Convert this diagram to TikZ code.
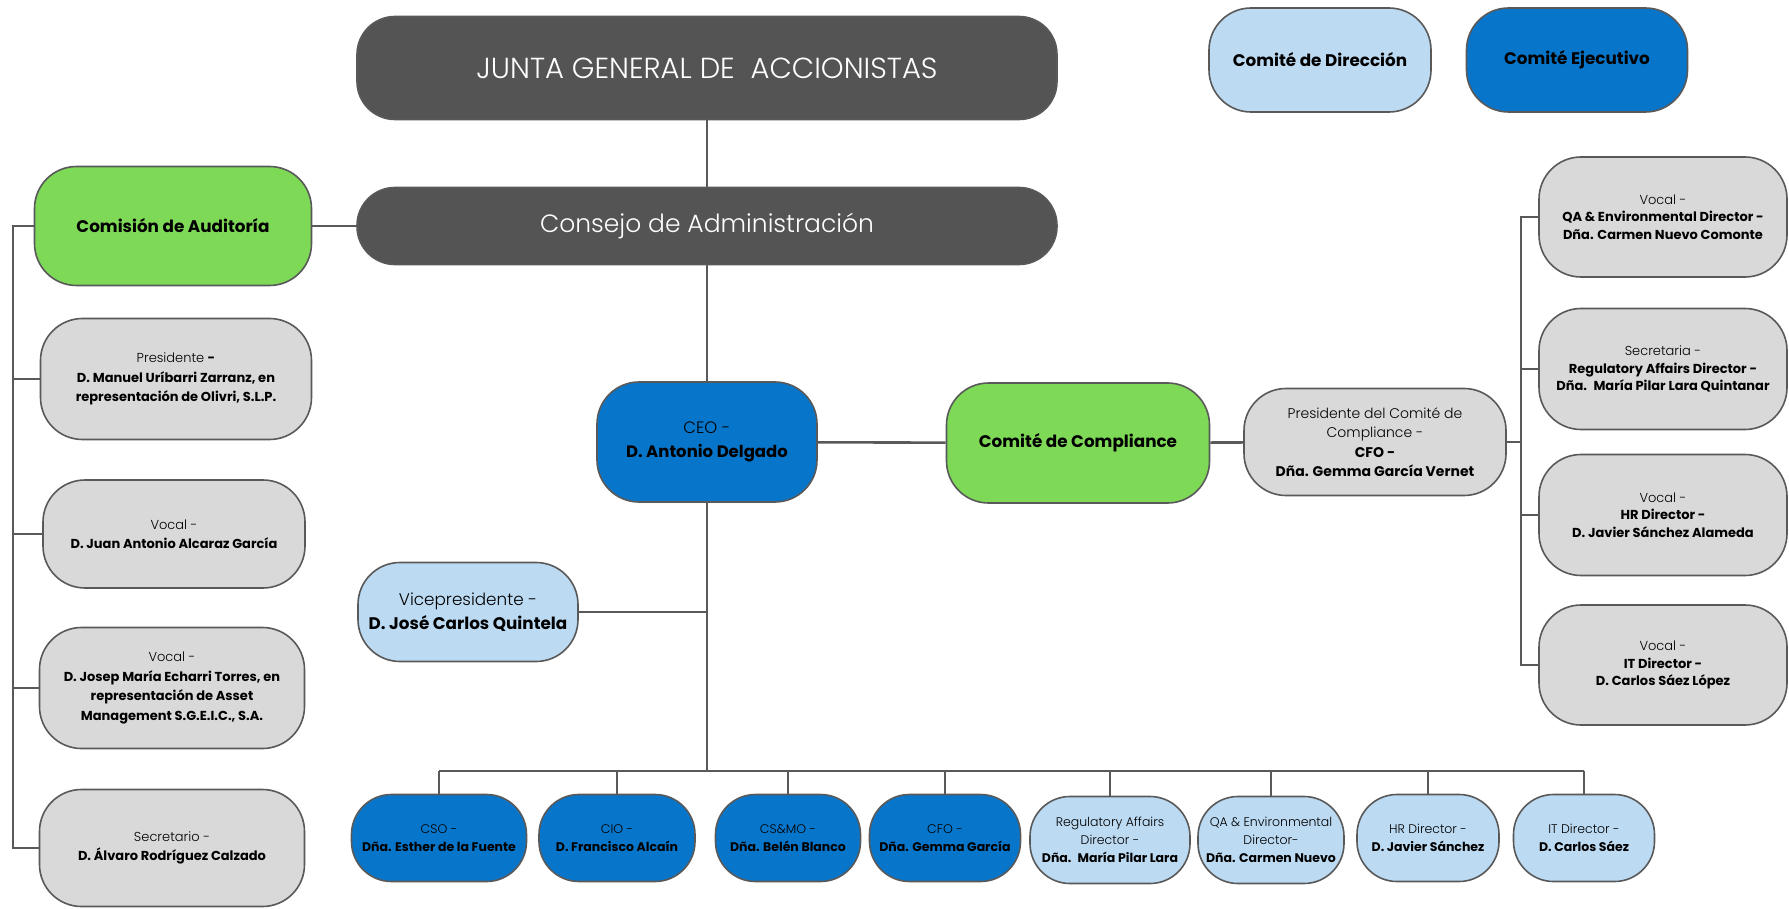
\documentclass[tikz,border=0pt]{standalone}
\usepackage{fontspec}
\setmainfont{Poppins}
\newfontfamily\lightfont{Poppins Light}
\usepackage{xcolor}

\definecolor{darkbox}{HTML}{545454}
\definecolor{greenbox}{HTML}{7ED957}
\definecolor{graybox}{HTML}{D9D9D9}
\definecolor{lightbluebox}{HTML}{BCDAF2}
\definecolor{bluebox}{HTML}{0776CA}
\definecolor{linecol}{HTML}{595959}

\tikzset{
    box/.style={draw=linecol, line width=1.6pt, rounded corners=42pt, align=center, inner sep=0pt},
    dark/.style={box, fill=darkbox, text=white, rounded corners=38pt},
    green/.style={box, fill=greenbox},
    gray/.style={box, fill=graybox},
    light/.style={box, fill=lightbluebox},
    blue/.style={box, fill=bluebox},
    conn/.style={draw=linecol, line width=2.6pt}
}

\begin{document}
\begin{tikzpicture}[x=1pt, y=-1pt]
    \useasboundingbox (0,0) rectangle (1789,909);

    % top
    \node[dark, minimum width=700, minimum height=103, font=\fontsize{29}{34}\lightfont] (junta) at (707,68) {JUNTA GENERAL DE \ ACCIONISTAS};
    \node[dark, minimum width=700, minimum height=77, font=\fontsize{25}{30}\lightfont] (consejo) at (707,226) {Consejo de Administración};
    \node[light, minimum width=222, minimum height=104, font=\fontsize{16.8}{20}\selectfont\bfseries] (cdir) at (1320,60) {Comité de Dirección};
    \node[blue, minimum width=221, minimum height=104, font=\fontsize{16.8}{20}\selectfont\bfseries] (cejec) at (1577,60) {Comité Ejecutivo};

    % comision de auditoria
    \node[green, minimum width=277, minimum height=119, font=\fontsize{16.8}{20}\selectfont\bfseries] (audit) at (173,226) {Comisión de Auditoría};
    \begin{scope}[font=\fontsize{13}{19.5}\selectfont]
    \node[gray, minimum width=271, minimum height=121] (apres) at (176,379) {{\lightfont Presidente} \textbf{-}\\ \textbf{D. Manuel Uríbarri Zarranz, en}\\ \textbf{representación de Olivri, S.L.P.}};
    \node[gray, minimum width=262, minimum height=108] (avocal1) at (174,534) {{\lightfont Vocal -}\\ \textbf{D. Juan Antonio Alcaraz García}};
    \node[gray, minimum width=265, minimum height=121] (avocal2) at (172,688) {{\lightfont Vocal -}\\ \textbf{D. Josep María Echarri Torres, en}\\ \textbf{representación de Asset}\\ \textbf{Management S.G.E.I.C., S.A.}};
    \node[gray, minimum width=265, minimum height=117] (asec) at (172,848) {{\lightfont Secretario -}\\ \textbf{D. Álvaro Rodríguez Calzado}};
    \end{scope}

    % ceo and compliance
    \node[blue, minimum width=220, minimum height=120, font=\fontsize{16.5}{24}\selectfont] (ceo) at (707,442) {{\lightfont CEO -}\\ \textbf{D. Antonio Delgado}};
    \node[green, minimum width=263, minimum height=120, font=\fontsize{16.8}{20}\selectfont\bfseries] (compl) at (1078,443) {Comité de Compliance};
    \node[gray, minimum width=262, minimum height=107, font=\fontsize{14}{19.5}\selectfont] (cpres) at (1375,442) {{\lightfont Presidente del Comité de}\\ {\lightfont Compliance -}\\ \textbf{CFO -}\\ \textbf{Dña. Gemma García Vernet}};
    \node[light, minimum width=220, minimum height=99, font=\fontsize{16.8}{24}\selectfont] (vice) at (468,612) {{\lightfont Vicepresidente -}\\ \textbf{D. José Carlos Quintela}};

    % comite de compliance members
    \begin{scope}[font=\fontsize{13}{17.5}\selectfont]
    \node[gray, minimum width=248, minimum height=120] (rvocal1) at (1663,217) {{\lightfont Vocal -}\\ \textbf{QA \& Environmental Director -}\\ \textbf{Dña. Carmen Nuevo Comonte}};
    \node[gray, minimum width=248, minimum height=121] (rsec) at (1663,369) {{\lightfont Secretaria -}\\ \textbf{Regulatory Affairs Director -}\\ \textbf{Dña. \ María Pilar Lara Quintanar}};
    \node[gray, minimum width=248, minimum height=121] (rvocal2) at (1663,515) {{\lightfont Vocal -}\\ \textbf{HR Director -}\\ \textbf{D. Javier Sánchez Alameda}};
    \node[gray, minimum width=248, minimum height=120] (rvocal3) at (1663,665) {{\lightfont Vocal -}\\ \textbf{IT Director -}\\ \textbf{D. Carlos Sáez López}};
    \end{scope}

    % bottom row
    \begin{scope}[font=\fontsize{12.5}{18}\selectfont]
    \node[blue, minimum width=175, minimum height=87, rounded corners=40pt] (cso) at (439,838) {{\lightfont CSO -}\\ \textbf{Dña. Esther de la Fuente}};
    \node[blue, minimum width=156, minimum height=87, rounded corners=40pt] (cio) at (617,838) {{\lightfont CIO -}\\ \textbf{D. Francisco Alcaín}};
    \node[blue, minimum width=145, minimum height=87, rounded corners=40pt] (csmo) at (788,838) {{\lightfont CS\&MO -}\\ \textbf{Dña. Belén Blanco}};
    \node[blue, minimum width=151, minimum height=87, rounded corners=40pt] (cfo) at (945,838) {{\lightfont CFO -}\\ \textbf{Dña. Gemma García}};
    \node[light, minimum width=160, minimum height=87, rounded corners=40pt] (reg) at (1110,840) {{\lightfont Regulatory Affairs}\\ {\lightfont Director -}\\ \textbf{Dña. \ María Pilar Lara}};
    \node[light, minimum width=146, minimum height=87, rounded corners=40pt] (qa) at (1271,840) {{\lightfont QA \& Environmental}\\ {\lightfont Director-}\\ \textbf{Dña. Carmen Nuevo}};
    \node[light, minimum width=142, minimum height=87, rounded corners=40pt] (hr) at (1428,838) {{\lightfont HR Director -}\\ \textbf{D. Javier Sánchez}};
    \node[light, minimum width=141, minimum height=87, rounded corners=40pt] (it) at (1584,838) {{\lightfont IT Director -}\\ \textbf{D. Carlos Sáez}};
    \end{scope}

    % connectors
    \coordinate (lbus) at (13,0);
    \coordinate (rbus) at (1521,0);
    \coordinate (bus) at (0,771);

    \draw[conn] (junta) -- (consejo);
    \draw[conn] (consejo) -- (ceo);
    \draw[conn] (consejo) -- (audit);
    \draw[conn] (ceo) -- (compl);
    \draw[conn] (compl) -- (cpres);
    \draw[conn] (cpres.east) -- (cpres.east -| rbus);
    \draw[conn] (vice.east) -- (vice.east -| ceo.south);
    \draw[conn] (ceo.south) -- (ceo.south |- bus);

    \draw[conn] (audit.west) -- (audit.west -| lbus) -- (asec.west -| lbus) -- (asec.west);
    \foreach \n in {apres,avocal1,avocal2} {
        \draw[conn] (\n.west) -- (\n.west -| lbus);
    }

    \draw[conn] (rvocal1.west) -- (rvocal1.west -| rbus) -- (rvocal3.west -| rbus) -- (rvocal3.west);
    \foreach \n in {rsec,rvocal2} {
        \draw[conn] (\n.west) -- (\n.west -| rbus);
    }

    \draw[conn] (cso.north |- bus) -- (it.north |- bus);
    \foreach \n in {cso,cio,csmo,cfo,reg,qa,hr,it} {
        \draw[conn] (\n.north) -- (\n.north |- bus);
    }
\end{tikzpicture}
\end{document}
